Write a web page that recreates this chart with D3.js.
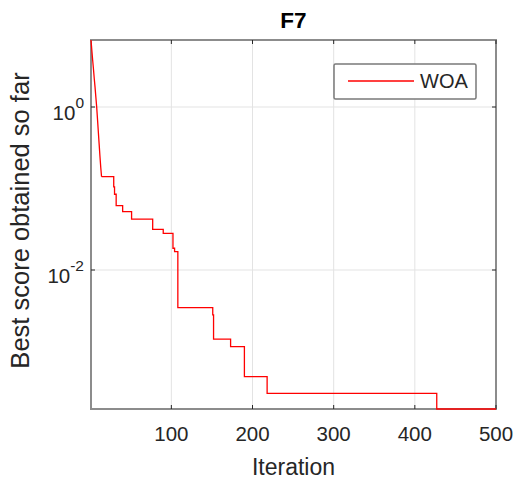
<!DOCTYPE html>
<html><head><meta charset="utf-8">
<script src="https://cdn.jsdelivr.net/npm/d3@7"></script>
<style>body{margin:0;background:#fff}svg{display:block}text{font-family:"Liberation Sans",Arial,sans-serif}</style>
</head><body><svg id="c" width="515" height="482"></svg>
<script>
const chartTitle = "F7";
const seriesName = "WOA";
const xLabel = "Iteration";
const yLabel = "Best score obtained so far";
// breakpoints of the convergence curve (step after)
const iterations = [1,2,3,4,5,6,7,8,9,10,11,12,13,14,29,30,32,40,51,77,90,102,104,108,151,152,173,190,218,427,500];
const bestScores = [6.64,5.0,3.8,2.95,2.24,1.74,1.32,1.0,0.71,0.50,0.355,0.25,0.182,0.1396,0.105,0.085,0.0615,0.0519,0.0422,0.0315,0.0282,0.0185,0.0168,0.00345,0.00281,0.00142,0.00115,0.000491,0.000307,0.000197,0.000197];
const xTicks = [100,200,300,400,500];
const yTickExps = [0,-2];

const svg = d3.select("#c");
const L=91,R=496,T=40,B=409;
const data = iterations.map((d,i)=>({x:d,y:bestScores[i]}));
const x = d3.scaleLinear().domain([1,500]).range([L,R]);
const y = d3.scaleLog().domain([d3.min(bestScores), d3.max(bestScores)]).range([B,T]);

const axisCol="#262626", boxCol="#8c8c8c", gridCol="#e3e3e3";
// grid
svg.append("g").selectAll("line").data(xTicks.filter(t=>t<500)).join("line")
  .attr("x1",d=>x(d)).attr("x2",d=>x(d)).attr("y1",T).attr("y2",B).attr("stroke",gridCol).attr("stroke-width",1);
svg.append("g").selectAll("line").data(yTickExps).join("line")
  .attr("y1",d=>y(Math.pow(10,d))).attr("y2",d=>y(Math.pow(10,d))).attr("x1",L).attr("x2",R).attr("stroke",gridCol).attr("stroke-width",1);

// box
svg.append("rect").attr("x",L).attr("y",T).attr("width",R-L).attr("height",B-T)
  .attr("fill","none").attr("stroke",boxCol).attr("stroke-width",2);

// ticks
const tk=4;
xTicks.forEach(t=>{
  svg.append("line").attr("x1",x(t)).attr("x2",x(t)).attr("y1",B).attr("y2",B-tk).attr("stroke",axisCol);
  svg.append("line").attr("x1",x(t)).attr("x2",x(t)).attr("y1",T).attr("y2",T+tk).attr("stroke",axisCol);
  svg.append("text").attr("x",x(t)).attr("y",B+32).attr("text-anchor","middle").attr("font-size",20.5).attr("fill",axisCol).text(t);
});
yTickExps.forEach(e=>{
  const yy=y(Math.pow(10,e));
  svg.append("line").attr("x1",L).attr("x2",L+tk).attr("y1",yy).attr("y2",yy).attr("stroke",axisCol);
  svg.append("line").attr("x1",R).attr("x2",R-tk).attr("y1",yy).attr("y2",yy).attr("stroke",axisCol);
  const t=svg.append("text").attr("x",84).attr("y",yy+13).attr("text-anchor","end").attr("font-size",20.5).attr("fill",axisCol);
  t.append("tspan").text("10");
  t.append("tspan").attr("dy",-12).attr("font-size",15.5).text(String(e));
});

// line (drawn above the box)
const nLin = 14;
const lin = d3.line().x(d=>x(d.x)).y(d=>y(d.y));
const step = d3.line().x(d=>x(d.x)).y(d=>y(d.y)).curve(d3.curveStepAfter);
svg.append("path").datum(data.slice(0,nLin)).attr("d",lin).attr("fill","none").attr("stroke","#ff0000").attr("stroke-width",1.3);
svg.append("path").datum(data.slice(nLin-1)).attr("d",step).attr("fill","none").attr("stroke","#ff0000").attr("stroke-width",1.3);

// title & labels
svg.append("text").attr("x",(L+R)/2).attr("y",28).attr("text-anchor","middle").attr("font-size",22.5).attr("font-weight","bold").attr("fill","#000").text(chartTitle);
svg.append("text").attr("x",(L+R)/2).attr("y",475).attr("text-anchor","middle").attr("font-size",23).attr("fill",axisCol).text(xLabel);
svg.append("text").attr("transform",`translate(29,${(T+B)/2 - 4}) rotate(-90)`).attr("text-anchor","middle").attr("font-size",25.5).attr("fill",axisCol).text(yLabel);

// legend
svg.append("rect").attr("x",334).attr("y",64).attr("width",142).attr("height",35).attr("rx",1.5)
  .attr("fill","#fff").attr("stroke","#7a7a7a").attr("stroke-width",1.5);
svg.append("line").attr("x1",348).attr("x2",414).attr("y1",81).attr("y2",81).attr("stroke","#ff0000").attr("stroke-width",1.3);
svg.append("text").attr("x",420).attr("y",88).attr("font-size",20).attr("fill",axisCol).text(seriesName);
</script></body></html>
